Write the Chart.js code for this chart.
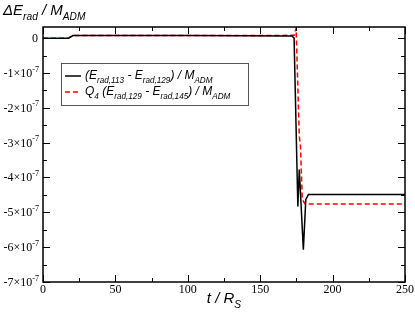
<!DOCTYPE html>
<html>
<head>
<meta charset="utf-8">
<script src="https://cdn.jsdelivr.net/npm/chart.js@4/dist/chart.umd.min.js"></script>
<style>
  html, body { margin: 0; padding: 0; background: #fff; }
  #wrap { width: 415px; height: 316px; }
</style>
</head>
<body>
<div id="wrap"><canvas id="grafico" width="415" height="316"></canvas></div>
<script>
// dados (t em R_S, energia em unidades de 1e-7 M_ADM)
const tempoPreto = [0, 17.5, 20.7, 100, 172, 173.4, 176, 177, 179.8, 181.5, 183.3, 250];
const valoresPreto = [0, 0, 0.075, 0.075, 0.06, 0.0, -4.83, -3.77, -6.07, -4.63, -4.49, -4.49];

const tempoVermelho = [0, 17.5, 20.7, 100, 173.5, 174.8, 177, 177.8, 179.1, 181, 250];
const valoresVermelho = [0, 0, 0.075, 0.075, 0.08, 0.29, -2.82, -3.1, -4.63, -4.76, -4.76];

const ticksX = [0, 50, 100, 150, 200, 250];
const ticksY = [0, -1, -2, -3, -4, -5, -6, -7];

const rotulosLegenda = [
    [['(E', 'n'], ['rad,113', 'sub'], [' - E', 'n'], ['rad,129', 'sub'], [') / M', 'n'], ['ADM', 'sub']],
    [['Q', 'n'], ['4', 'sub'], [' (E', 'n'], ['rad,129', 'sub'], [' - E', 'n'], ['rad,145', 'sub'], [') / M', 'n'], ['ADM', 'sub']]
];

function pontos(xs, ys) {
    return xs.map((x, i) => ({ x: x, y: ys[i] * 1e-7 }));
}

// desenha texto com subscrito / sobrescrito
function textoRico(ctx, x, y, partes, tamanho, familia, estilo, alinhar) {
    const medir = (p) => {
        const t = p[1] === 'n' ? tamanho : tamanho * 0.68;
        ctx.font = estilo + ' ' + t + 'px ' + familia;
        return ctx.measureText(p[0]).width;
    };
    let largura = 0;
    partes.forEach(p => { largura += medir(p); });
    let cx = x;
    if (alinhar === 'right') cx = x - largura;
    if (alinhar === 'center') cx = x - largura / 2;
    ctx.textAlign = 'left';
    ctx.textBaseline = 'alphabetic';
    partes.forEach(p => {
        const w = medir(p);
        let dy = 0;
        if (p[1] === 'sub') dy = tamanho * 0.3;
        if (p[1] === 'sup') dy = -tamanho * 0.45;
        ctx.fillText(p[0], cx, y + dy);
        cx += w;
    });
    return largura;
}

const pluginEixos = {
    id: 'eixosXmgrace',
    afterDraw(chart) {
        const ctx = chart.ctx;
        const area = chart.chartArea;
        const sx = chart.scales.x;
        const sy = chart.scales.y;
        ctx.save();
        ctx.strokeStyle = '#000';
        ctx.fillStyle = '#000';

        // moldura
        ctx.lineWidth = 1.5;
        ctx.strokeRect(area.left, area.top, area.right - area.left, area.bottom - area.top);

        // marcas para dentro
        ctx.lineWidth = 1;
        ctx.beginPath();
        for (let v = 0; v <= 250; v += 25) {
            const px = Math.round(sx.getPixelForValue(v)) + 0.5;
            const len = v % 50 === 0 ? 7 : 4;
            ctx.moveTo(px, area.bottom); ctx.lineTo(px, area.bottom - len);
            ctx.moveTo(px, area.top); ctx.lineTo(px, area.top + len);
        }
        for (let v = 0; v >= -7; v -= 0.5) {
            const py = Math.round(sy.getPixelForValue(v * 1e-7)) + 0.5;
            const len = Number.isInteger(v) ? 7 : 4;
            ctx.moveTo(area.left, py); ctx.lineTo(area.left + len, py);
            ctx.moveTo(area.right, py); ctx.lineTo(area.right - len, py);
        }
        ctx.stroke();

        // rótulos do eixo X
        ctx.font = '12px "Liberation Serif"';
        ctx.textAlign = 'center';
        ctx.textBaseline = 'alphabetic';
        ticksX.forEach(v => {
            ctx.fillText(String(v), sx.getPixelForValue(v), 293);
        });

        // rótulos do eixo Y
        ticksY.forEach(v => {
            const py = sy.getPixelForValue(v * 1e-7) + 4;
            if (v === 0) {
                textoRico(ctx, 38, py, [['0', 'n']], 12, '"Liberation Serif"', '', 'right');
            } else {
                textoRico(ctx, 39, py, [[v + '\u00d710', 'n'], ['-7', 'sup']], 12, '"Liberation Serif"', '', 'right');
            }
        });

        // títulos
        textoRico(ctx, 3, 15, [['\u0394E', 'n'], ['rad', 'sub'], [' / M', 'n'], ['ADM', 'sub']], 15, '"Liberation Sans"', 'italic', 'left');
        textoRico(ctx, 224, 303, [['t / R', 'n'], ['S', 'sub']], 15, '"Liberation Sans"', 'italic', 'center');

        // legenda
        ctx.fillStyle = '#fff';
        ctx.fillRect(61, 63, 187, 42);
        ctx.strokeStyle = '#555';
        ctx.lineWidth = 1;
        ctx.strokeRect(61.5, 63.5, 187, 42);
        const ys = [76, 92];
        chart.data.datasets.forEach((ds, i) => {
            ctx.strokeStyle = ds.borderColor;
            ctx.lineWidth = 1.5;
            ctx.setLineDash(ds.borderDash || []);
            ctx.beginPath();
            ctx.moveTo(65, ys[i]); ctx.lineTo(81, ys[i]);
            ctx.stroke();
            ctx.setLineDash([]);
            ctx.fillStyle = '#000';
            textoRico(ctx, 85, ys[i] + 3, rotulosLegenda[i], 12, '"Liberation Sans"', 'italic', 'left');
        });
        ctx.restore();
    }
};

const ctxGrafico = document.getElementById('grafico').getContext('2d');

const graficoEnergia = new Chart(ctxGrafico, {
    type: 'line',
    data: {
        datasets: [{
            label: 'preto',
            data: pontos(tempoPreto, valoresPreto),
            borderColor: '#000',
            borderWidth: 1.5,
            pointRadius: 0,
            tension: 0
        }, {
            label: 'vermelho',
            data: pontos(tempoVermelho, valoresVermelho),
            borderColor: '#ff0000',
            borderWidth: 1.5,
            borderDash: [5, 3],
            pointRadius: 0,
            tension: 0
        }]
    },
    options: {
        responsive: false,
        animation: false,
        layout: { padding: { left: 43, top: 27, right: 10, bottom: 34 } },
        scales: {
            x: {
                type: 'linear',
                min: 0,
                max: 250,
                grid: { display: false },
                border: { display: false },
                ticks: { display: false },
                afterFit: (escala) => { escala.height = 0; }
            },
            y: {
                type: 'linear',
                min: -7e-7,
                max: 0.32e-7,
                grid: { display: false },
                border: { display: false },
                ticks: { display: false },
                afterFit: (escala) => { escala.width = 0; }
            }
        },
        plugins: {
            legend: { display: false },
            tooltip: { enabled: false }
        }
    },
    plugins: [pluginEixos]
});
</script>
</body>
</html>
